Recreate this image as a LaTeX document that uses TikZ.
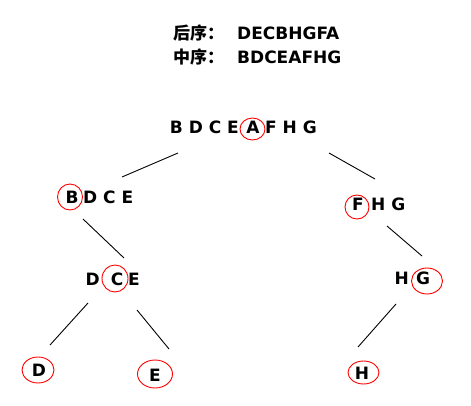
\documentclass[tikz,border=0pt]{standalone}
\usepackage{fontspec}
\setmainfont{DejaVu Sans}
\newfontfamily\cjk{Noto Sans CJK SC}
\begin{document}
\begin{tikzpicture}[x=1pt,y=-1pt,
  txt/.style={inner sep=0pt, font=\fontsize{17}{20}\selectfont\bfseries},
  ring/.style={draw=red, line width=0.9pt},
  edge/.style={draw=black, line width=0.9pt}]
\useasboundingbox (0,0) rectangle (471,406);

% header
\node[txt,anchor=base west] (post) at (173,40) {{\cjk 后序：}\hspace{13pt}DECBHGFA};
\node[txt,anchor=base west] (in) at (173,64) {{\cjk 中序：}\hspace{13pt}BDCEAFHG};

% root row
\node[txt,anchor=base] (rA) at (253,134) {A};
\node[txt,anchor=base east] (rL) at (239,134) {B D C E};
\node[txt,anchor=base west] (rR) at (265,134) {F H G};
\draw[ring] (252.5,129) ellipse [x radius=12.5, y radius=11];

% left subtree row
\node[txt,anchor=base] (lB) at (72,204) {B};
\node[txt,anchor=base west] (lR) at (83,204) {D C E};
\draw[ring] (70,197) ellipse [x radius=12.5, y radius=13];

% right subtree row
\node[txt,anchor=base] (rF) at (358,211) {F};
\node[txt,anchor=base west] (rFR) at (371,211) {H G};
\draw[ring] (357,207) ellipse [x radius=12, y radius=12];

% DCE row
\node[txt,anchor=base] (cC) at (117,285) {C};
\node[txt,anchor=base east] (cL) at (100,285) {D};
\node[txt,anchor=base west] (cR) at (128,285) {E};
\draw[ring] (115,278.5) ellipse [x radius=13, y radius=13.5];

% HG row
\node[txt,anchor=base] (gG) at (423,284) {G};
\node[txt,anchor=base east] (gL) at (409,284) {H};
\draw[ring] (427,281) ellipse [x radius=15.5, y radius=13];

% leaves
\node[txt,anchor=base] (leafD) at (39,376) {D};
\draw[ring] (38,370) ellipse [x radius=16, y radius=13];
\node[txt,anchor=base] (leafE) at (155,381) {E};
\draw[ring] (155,374) ellipse [x radius=17.5, y radius=14];
\node[txt,anchor=base] (leafH) at (362,379) {H};
\draw[ring] (363.5,372.5) ellipse [x radius=15.5, y radius=11.5];

% connector ends
\coordinate (e1a) at (178,153); \coordinate (e1b) at (122,177);
\coordinate (e2a) at (329,153); \coordinate (e2b) at (375,179);
\coordinate (e3a) at (83,219);  \coordinate (e3b) at (124,258);
\coordinate (e4a) at (387,226); \coordinate (e4b) at (422,256);
\coordinate (e5a) at (88,303);  \coordinate (e5b) at (50,345);
\coordinate (e6a) at (137,310); \coordinate (e6b) at (169,349);
\coordinate (e7a) at (396,304); \coordinate (e7b) at (358,347);
\draw[edge] (e1a) -- (e1b);
\draw[edge] (e2a) -- (e2b);
\draw[edge] (e3a) -- (e3b);
\draw[edge] (e4a) -- (e4b);
\draw[edge] (e5a) -- (e5b);
\draw[edge] (e6a) -- (e6b);
\draw[edge] (e7a) -- (e7b);
\end{tikzpicture}
\end{document}
